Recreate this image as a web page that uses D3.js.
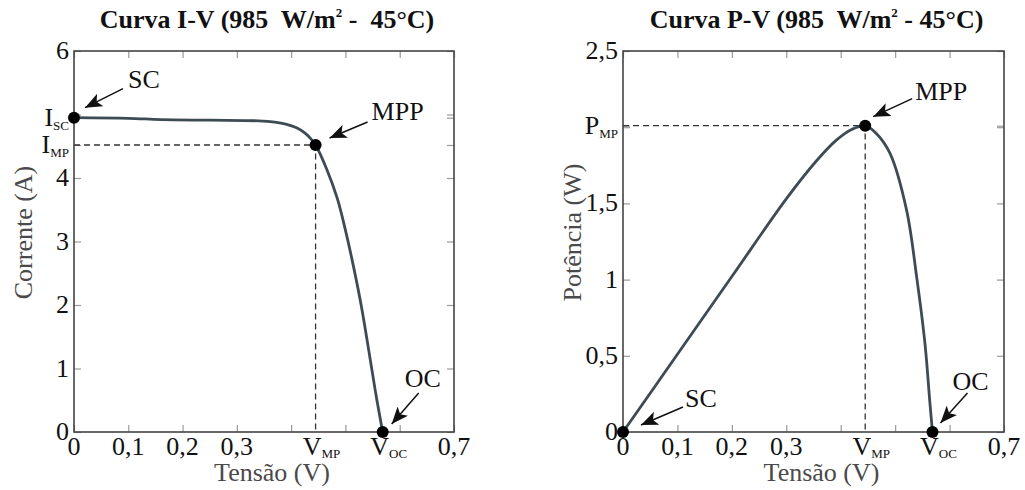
<!DOCTYPE html>
<html>
<head>
<meta charset="utf-8">
<script src="https://cdn.jsdelivr.net/npm/d3@7"></script>
<style>
  body { margin: 0; background: #fff; }
  svg text { font-family: "Liberation Serif", "Times New Roman", serif; white-space: pre; }
</style>
</head>
<body>
<script>
(function() {
    'use strict';

    // curva I-V
    var ivV = [0, 0.10, 0.16, 0.25, 0.34, 0.37, 0.39, 0.41, 0.425, 0.435, 0.445, 0.465, 0.485, 0.50, 0.515, 0.53, 0.548, 0.558, 0.5686];
    var ivI = [4.95, 4.94, 4.92, 4.91, 4.90, 4.88, 4.85, 4.79, 4.71, 4.63, 4.52, 4.15, 3.68, 3.18, 2.6, 1.95, 1.02, 0.5, 0];

    // curva P-V
    var pvV = [0, 0.10, 0.20, 0.30, 0.3556, 0.392, 0.42, 0.445, 0.4654, 0.4906, 0.521, 0.5395, 0.5548, 0.564, 0.5686];
    var pvP = [0, 0.51, 1.02, 1.53, 1.78, 1.915, 1.985, 2.01, 1.959, 1.828, 1.456, 1.018, 0.58, 0.186, 0];

    // pontos notaveis
    var VMP = 0.445, VOC = 0.5686, ISC = 4.95, IMP = 4.52, PMP = 2.01;

    // ticks
    var xTicks = [0, 0.1, 0.2, 0.3, 0.4, 0.5, 0.6, 0.7];
    var xTickLabels = ["0", "0,1", "0,2", "0,3", "", "", "", "0,7"];
    var ivYTicks = [0, 1, 2, 3, 4, 5, 6];
    var ivYTickLabels = ["0", "1", "2", "3", "4", "", "6"];
    var pvYTicks = [0, 0.5, 1, 1.5, 2, 2.5];
    var pvYTickLabels = ["0", "0,5", "1", "1,5", "", "2,5"];

    var W = 1025, H = 490;
    var svg = d3.select("body").append("svg")
                .attr("width", W)
                .attr("height", H);

    svg.append("defs").append("marker")
        .attr("id", "seta")
        .attr("viewBox", "0 0 17 14")
        .attr("refX", 17)
        .attr("refY", 7)
        .attr("markerWidth", 17)
        .attr("markerHeight", 14)
        .attr("markerUnits", "userSpaceOnUse")
        .attr("orient", "auto")
        .append("path")
        .attr("d", "M0,0 L17,7 L0,14 L4,7 Z")
        .attr("fill", "#111");

    function sub(sel, main, s) {
        sel.append("tspan").text(main);
        sel.append("tspan").attr("font-size", 13).attr("dy", 3).text(s);
    }

    function panel(cfg) {
        var g = svg.append("g");
        var x = d3.scaleLinear().domain([0, 0.7]).range([cfg.left, cfg.right]);
        var y = d3.scaleLinear().domain(cfg.yDomain).range([cfg.bottom, cfg.top]);

        // titulo
        var t = g.append("text")
            .attr("x", (cfg.left + cfg.right) / 2 + 3)
            .attr("y", 28)
            .attr("text-anchor", "middle")
            .attr("font-size", 26)
            .attr("font-weight", "bold")
            .attr("fill", "#111");
        t.append("tspan").text(cfg.title[0]);
        t.append("tspan").attr("font-size", 13).attr("dy", -11).text("2");
        t.append("tspan").attr("dy", 11).text(cfg.title[1]);

        // ticks (para dentro)
        var ticksY = cfg.yTicks.concat(cfg.yExtra);
        g.append("g").attr("transform", "translate(0," + cfg.bottom + ")")
            .call(d3.axisBottom(x).tickValues(xTicks).tickSize(-7).tickFormat(""));
        g.append("g").attr("transform", "translate(0," + cfg.top + ")")
            .call(d3.axisTop(x).tickValues(xTicks).tickSize(-7).tickFormat(""));
        g.append("g").attr("transform", "translate(" + cfg.left + ",0)")
            .call(d3.axisLeft(y).tickValues(ticksY).tickSize(-7).tickFormat(""));
        g.append("g").attr("transform", "translate(" + cfg.right + ",0)")
            .call(d3.axisRight(y).tickValues(ticksY).tickSize(-7).tickFormat(""));
        g.selectAll(".domain").remove();
        g.selectAll(".tick line").attr("stroke", "#999").attr("stroke-width", 1.2);

        // rotulos X
        g.selectAll("text.xl").data(xTicks).enter().append("text")
            .attr("class", "xl")
            .attr("x", function(d) { return x(d); })
            .attr("y", cfg.bottom + 23)
            .attr("text-anchor", "middle")
            .attr("font-size", 26)
            .attr("fill", "#111")
            .text(function(d, i) { return xTickLabels[i]; });

        var vmp = g.append("text").attr("x", x(VMP) + 6).attr("y", cfg.bottom + 23)
            .attr("text-anchor", "middle").attr("font-size", 26).attr("fill", "#111");
        sub(vmp, "V", "MP");
        var voc = g.append("text").attr("x", x(VOC) + 6).attr("y", cfg.bottom + 23)
            .attr("text-anchor", "middle").attr("font-size", 26).attr("fill", "#111");
        sub(voc, "V", "OC");

        // rotulos Y
        g.selectAll("text.yl").data(cfg.yTicks).enter().append("text")
            .attr("class", "yl")
            .attr("x", cfg.left - 5)
            .attr("y", function(d) { return y(d) + 8; })
            .attr("text-anchor", "end")
            .attr("font-size", 26)
            .attr("fill", "#111")
            .text(function(d, i) { return cfg.yLabels[i]; });

        cfg.yExtra.forEach(function(v, i) {
            var lab = g.append("text")
                .attr("x", cfg.left - 5)
                .attr("y", y(v) + 8)
                .attr("text-anchor", "end")
                .attr("font-size", 26)
                .attr("fill", "#111");
            lab.append("tspan").text(cfg.yExtraLabels[i][0]);
            lab.append("tspan").attr("font-size", 13).attr("dy", 4).text(cfg.yExtraLabels[i][1]);
        });

        // titulos dos eixos
        g.append("text")
            .attr("x", (cfg.left + cfg.right) / 2 + 8)
            .attr("y", 481)
            .attr("text-anchor", "middle")
            .attr("font-size", 26)
            .attr("fill", "#4a4a4a")
            .text("Tensão (V)");
        g.append("text")
            .attr("transform", "translate(" + (cfg.left - 42) + "," + ((cfg.top + cfg.bottom) / 2 - 9) + ") rotate(-90)")
            .attr("text-anchor", "middle")
            .attr("font-size", 26)
            .attr("fill", "#4a4a4a")
            .text(cfg.yTitle);

        // tracejado do MPP
        var yMP = cfg.yExtra[cfg.yExtra.length - 1];
        g.append("path")
            .attr("d", "M" + x(0) + "," + y(yMP) + "H" + x(VMP) + "V" + y(0))
            .attr("fill", "none")
            .attr("stroke", "#333")
            .attr("stroke-width", 1.3)
            .attr("stroke-dasharray", "6,4");

        // moldura
        g.append("rect")
            .attr("x", cfg.left).attr("y", cfg.top)
            .attr("width", cfg.right - cfg.left).attr("height", cfg.bottom - cfg.top)
            .attr("fill", "none")
            .attr("stroke", "#444")
            .attr("stroke-width", 1.6);

        // curva
        var line = d3.line()
            .x(function(d) { return x(d[0]); })
            .y(function(d) { return y(d[1]); })
            .curve(d3.curveCatmullRom.alpha(0.5));
        g.append("path")
            .datum(d3.zip(cfg.xs, cfg.ys))
            .attr("d", line)
            .attr("fill", "none")
            .attr("stroke", "#3d4b54")
            .attr("stroke-width", 2.8);

        // pontos e setas
        cfg.notes.forEach(function(n) {
            var px = x(n.p[0]), py = y(n.p[1]);
            g.append("circle").attr("cx", px).attr("cy", py).attr("r", 6).attr("fill", "#000");
            g.append("line")
                .attr("x1", px + n.tail[0]).attr("y1", py + n.tail[1])
                .attr("x2", px + n.tip[0]).attr("y2", py + n.tip[1])
                .attr("stroke", "#111")
                .attr("stroke-width", 1.5)
                .attr("marker-end", "url(#seta)");
            g.append("text")
                .attr("x", px + n.txt[0]).attr("y", py + n.txt[1])
                .attr("font-size", 26)
                .attr("fill", "#111")
                .text(n.label);
        });
    }

    panel({
        left: 74, right: 454, top: 51, bottom: 432,
        yDomain: [0, 6],
        yTicks: ivYTicks, yLabels: ivYTickLabels,
        yExtra: [ISC, IMP], yExtraLabels: [["I", "SC"], ["I", "MP"]],
        title: ["Curva I-V (985  W/m", " -  45°C)"],
        yTitle: "Corrente (A)",
        xs: ivV, ys: ivI,
        notes: [
            { label: "SC", p: [0, ISC], tip: [11, -10], tail: [49, -29], txt: [54, -30] },
            { label: "MPP", p: [VMP, IMP], tip: [14, -7], tail: [52, -23], txt: [56, -25] },
            { label: "OC", p: [VOC, 0], tip: [9, -8], tail: [36, -39], txt: [22, -45] }
        ]
    });

    panel({
        left: 623, right: 1004, top: 51, bottom: 432,
        yDomain: [0, 2.5],
        yTicks: pvYTicks, yLabels: pvYTickLabels,
        yExtra: [PMP], yExtraLabels: [["P", "MP"]],
        title: ["Curva P-V (985  W/m", " - 45°C)"],
        yTitle: "Potência (W)",
        xs: pvV, ys: pvP,
        notes: [
            { label: "SC", p: [0, 0], tip: [18, -7], tail: [60, -25], txt: [62, -25] },
            { label: "MPP", p: [VMP, PMP], tip: [8, -9], tail: [47, -27], txt: [50, -26] },
            { label: "OC", p: [VOC, 0], tip: [8, -9], tail: [35, -39], txt: [20, -42] }
        ]
    });
}());
</script>
</body>
</html>
